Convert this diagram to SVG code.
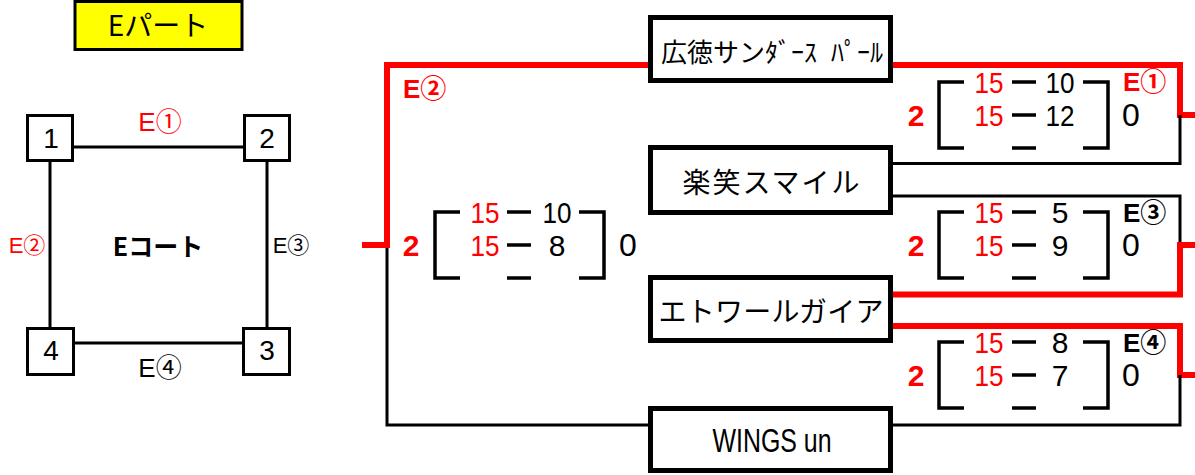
<svg xmlns="http://www.w3.org/2000/svg" width="1195" height="475" viewBox="0 0 1195 475">
<style>
.bg{fill:#fff}
.sq{fill:#fff;stroke:#000;stroke-width:3}
.team{fill:#fff;stroke:#000;stroke-width:5}
.ln{fill:none;stroke:#000;stroke-width:3}
.red{fill:none;stroke:#f00;stroke-width:6}
.br{fill:none;stroke:#000;stroke-width:3.5}
text{font-family:"Liberation Sans","Noto Sans CJK JP",sans-serif;dominant-baseline:central;text-anchor:middle}
.jp{font-family:"Noto Sans CJK JP",sans-serif}
.r{fill:#f00}
.n{font-size:30px}
.z{font-size:32px}
.b{font-weight:bold}
.lab{font-size:26px;font-weight:600;text-anchor:start}
</style>
<rect class="bg" x="0" y="0" width="1195" height="475"/>

<g id="title">
<rect x="75" y="1.5" width="167" height="48" fill="#ff0" stroke="#000" stroke-width="3"/>
<text class="jp" x="158" y="24" font-size="28">Eパート</text>
</g>

<g id="court">
<g id="court-lines">
<path class="ln" d="M74,147 H243 M50,162 V327 M267,162 V327 M74,343 H243"/>
</g>
<g id="slot1"><rect class="sq" x="27.5" y="115.5" width="45" height="45"/><text x="51" y="138" font-size="28">1</text></g>
<g id="slot2"><rect class="sq" x="244.5" y="115.5" width="45" height="45"/><text x="267" y="138" font-size="28">2</text></g>
<g id="slot3"><rect class="sq" x="243.5" y="328.5" width="46" height="46"/><text x="267" y="350" font-size="28">3</text></g>
<g id="slot4"><rect class="sq" x="27.5" y="328.5" width="46" height="46"/><text x="51" y="350" font-size="28">4</text></g>
<text class="r" x="160" y="122" font-size="26">E①</text>
<text class="r" x="27" y="245" font-size="22">E②</text>
<text x="291" y="245" font-size="22">E③</text>
<text x="160" y="368" font-size="26">E④</text>
<text class="jp" x="158" y="245" font-size="25" font-weight="600">Eコート</text>
</g>

<g id="connectors">
<path class="ln" d="M648,425 H387 V245"/>
<path class="red" d="M648,65 H387 V245 H362"/>
<path class="red" d="M893,65 H1180 V115 H1195"/>
<path class="ln" d="M893,163.5 H1180 V115"/>
<path class="ln" d="M893,196 H1180 V245"/>
<path class="red" d="M893,294.5 H1180 V245 H1195"/>
<path class="red" d="M893,326 H1180 V375 H1195"/>
<path class="ln" d="M893,425 H1180 V375"/>
</g>

<g id="team1"><rect class="team" x="650.5" y="17.5" width="240" height="63"/><text class="jp" x="772" y="50" font-size="26" word-spacing="8">広徳サンﾀﾞｰｽ ﾊﾟｰﾙ</text></g>
<g id="team2"><rect class="team" x="650.5" y="147.5" width="240" height="65"/><text class="jp" x="771" y="181" font-size="28" textLength="177" lengthAdjust="spacing">楽笑スマイル</text></g>
<g id="team3"><rect class="team" x="650.5" y="277.5" width="240" height="63"/><text class="jp" x="771" y="310" font-size="28" textLength="225" lengthAdjust="spacing">エトワールガイア</text></g>
<g id="team4"><rect class="team" x="650.5" y="408.5" width="240" height="62"/><text x="772" y="440" font-size="33" textLength="119" lengthAdjust="spacingAndGlyphs">WINGS un</text></g>

<g id="match-E2">
<text class="r lab" x="403" y="89">E②</text>
<path class="br" d="M460,212 H435 V278 H460 M579,212 H604 V278 H579 M507,212 H531 M507,245 H531 M507,278 H531"/>
<text class="r n b" x="411" y="245">2</text>
<text class="r n" x="485" y="212" textLength="29" lengthAdjust="spacingAndGlyphs">15</text>
<text class="n" x="557" y="212" textLength="29" lengthAdjust="spacingAndGlyphs">10</text>
<text class="r n" x="485" y="245" textLength="29" lengthAdjust="spacingAndGlyphs">15</text>
<text class="n" x="557" y="245">8</text>
<text class="z" x="628" y="245">0</text>
</g>

<g id="match-E1">
<path class="br" d="M964,82 H939 V148 H964 M1083,82 H1108 V148 H1083 M1012,82 H1036 M1012,115 H1036 M1012,148 H1036"/>
<text class="r n b" x="916" y="115">2</text>
<text class="r n" x="989" y="82" textLength="29" lengthAdjust="spacingAndGlyphs">15</text>
<text class="n" x="1060" y="82" textLength="29" lengthAdjust="spacingAndGlyphs">10</text>
<text class="r n" x="989" y="115" textLength="29" lengthAdjust="spacingAndGlyphs">15</text>
<text class="n" x="1060" y="115" textLength="29" lengthAdjust="spacingAndGlyphs">12</text>
<text class="z" x="1131" y="115">0</text>
<text class="r lab" x="1123" y="82">E①</text>
</g>

<g id="match-E3">
<path class="br" d="M964,212 H939 V278 H964 M1083,212 H1108 V278 H1083 M1012,212 H1036 M1012,245 H1036 M1012,278 H1036"/>
<text class="r n b" x="916" y="245">2</text>
<text class="r n" x="989" y="212" textLength="29" lengthAdjust="spacingAndGlyphs">15</text>
<text class="n" x="1060" y="212">5</text>
<text class="r n" x="989" y="245" textLength="29" lengthAdjust="spacingAndGlyphs">15</text>
<text class="n" x="1060" y="245">9</text>
<text class="z" x="1131" y="245">0</text>
<text class="lab" x="1123" y="213">E③</text>
</g>

<g id="match-E4">
<path class="br" d="M964,342 H939 V408 H964 M1083,342 H1108 V408 H1083 M1012,342 H1036 M1012,375 H1036 M1012,408 H1036"/>
<text class="r n b" x="916" y="375">2</text>
<text class="r n" x="989" y="342" textLength="29" lengthAdjust="spacingAndGlyphs">15</text>
<text class="n" x="1060" y="342">8</text>
<text class="r n" x="989" y="375" textLength="29" lengthAdjust="spacingAndGlyphs">15</text>
<text class="n" x="1060" y="375">7</text>
<text class="z" x="1131" y="375">0</text>
<text class="lab" x="1123" y="343">E④</text>
</g>
</svg>
